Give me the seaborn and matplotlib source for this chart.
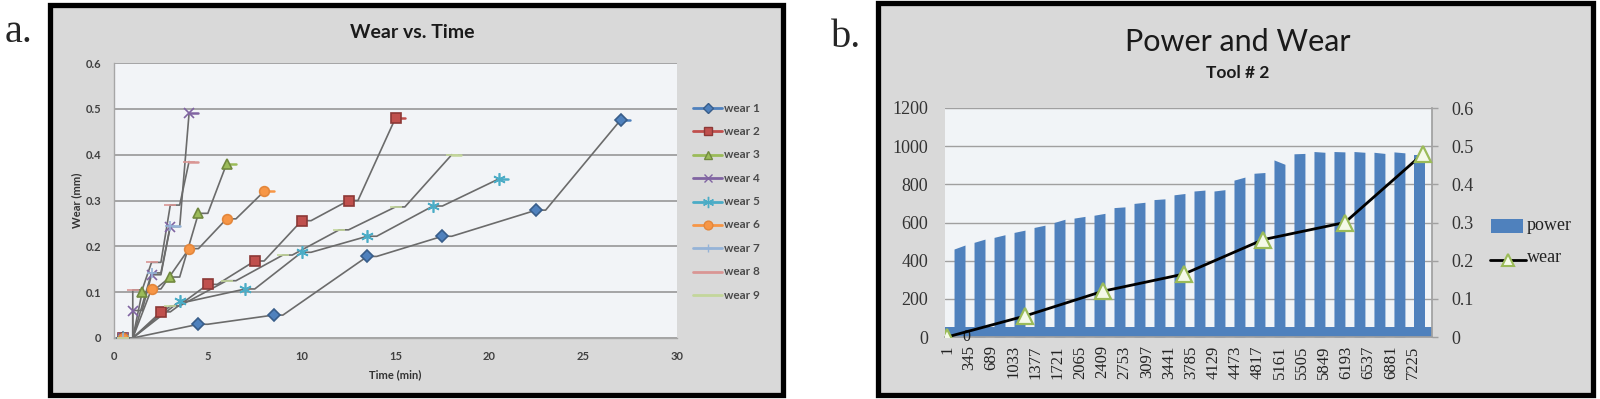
import matplotlib
matplotlib.use("Agg")
import matplotlib.pyplot as plt
import seaborn as sns
import pandas as pd
from matplotlib.patches import Rectangle
from matplotlib.lines import Line2D

# ---------------- Panel a data: Wear vs. Time ----------------
series_names = ["wear 1", "wear 2", "wear 3", "wear 4", "wear 5",
                "wear 6", "wear 7", "wear 8", "wear 9"]
wear1_time = [0.5, 4.5, 8.5, 13.5, 17.5, 22.5, 27]
wear1_mm = [0, 0.03, 0.05, 0.178, 0.222, 0.279, 0.476]
wear2_time = [0.5, 2.5, 5, 7.5, 10, 12.5, 15]
wear2_mm = [0, 0.057, 0.117, 0.168, 0.256, 0.30, 0.48]
wear3_time = [0.5, 1.5, 3, 4.5, 6]
wear3_mm = [0, 0.10, 0.133, 0.272, 0.38]
wear4_time = [0.5, 1, 2, 3, 4]
wear4_mm = [0, 0.06, 0.138, 0.243, 0.49]
wear5_time = [0.5, 3.5, 7, 10, 13.5, 17, 20.5]
wear5_mm = [0, 0.08, 0.107, 0.187, 0.222, 0.288, 0.347]
wear6_time = [0.5, 2, 4, 6, 8]
wear6_mm = [0, 0.107, 0.195, 0.26, 0.32]
wear7_time = [0.5, 2, 3]
wear7_mm = [0, 0.142, 0.245]
wear8_time = [0.5, 1, 2, 3, 4]
wear8_mm = [0, 0.105, 0.165, 0.29, 0.385]
wear9_time = [0.5, 3, 6, 9, 12, 15, 18]
wear9_mm = [0, 0.07, 0.125, 0.181, 0.236, 0.286, 0.40]

times_a = [wear1_time, wear2_time, wear3_time, wear4_time, wear5_time,
           wear6_time, wear7_time, wear8_time, wear9_time]
wears_a = [wear1_mm, wear2_mm, wear3_mm, wear4_mm, wear5_mm,
           wear6_mm, wear7_mm, wear8_mm, wear9_mm]

# ---------------- Panel b data: Power and Wear, Tool # 2 ----------------
sample_ticks = [1, 345, 689, 1033, 1377, 1721, 2065, 2409, 2753, 3097, 3441,
                3785, 4129, 4473, 4817, 5161, 5505, 5849, 6193, 6537, 6881, 7225]
cut_start = [110, 420, 730, 1040, 1350, 1660, 1970, 2280, 2590, 2900, 3210, 3520,
             3830, 4140, 4450, 4760, 5070, 5380, 5690, 6000, 6310, 6620, 6930, 7240]
cut_end = [280, 590, 900, 1210, 1520, 1830, 2140, 2450, 2760, 3070, 3380, 3690,
           4000, 4310, 4620, 4930, 5240, 5550, 5860, 6170, 6480, 6790, 7100, 7410]
power_start = [461, 496, 522, 548, 574, 600, 623, 638, 678, 700, 720, 745,
               765, 765, 822, 858, 928, 960, 972, 972, 972, 968, 970, 955]
power_end = [482, 513, 536, 560, 586, 617, 632, 648, 682, 706, 724, 752,
             770, 772, 838, 862, 905, 962, 968, 970, 968, 962, 965, 955]
idle_power = 55
wear_sample = [1, 1210, 2419, 3675, 4899, 6170, 7379]
wear_b = [0, 0.055, 0.12, 0.165, 0.255, 0.30, 0.48]

# ---------------- styling ----------------
sns.set_theme(style="white")
plt.rcParams['font.family'] = ['Lato', 'DejaVu Sans']

W, H = 1600, 399
def fx(px): return px / W
def fy(py): return 1 - py / H

fig = plt.figure(figsize=(16, 3.99), dpi=100)
fig.patch.set_facecolor('white')

# panel frames
fig.add_artist(Rectangle((fx(50), fy(395)), fx(783) - fx(50), fy(5) - fy(395),
                         transform=fig.transFigure, facecolor='#d9d9d9',
                         edgecolor='black', lw=3.8, zorder=-5))
fig.add_artist(Rectangle((fx(878), fy(395)), fx(1593) - fx(878), fy(3) - fy(395),
                         transform=fig.transFigure, facecolor='#d9d9d9',
                         edgecolor='black', lw=3.8, zorder=-5))

serif = ['Liberation Serif', 'DejaVu Serif']
fig.text(fx(5), fy(42), "a.", family=serif, fontsize=29, va='baseline', ha='left')
fig.text(fx(831), fy(47), "b.", family=serif, fontsize=29, va='baseline', ha='left')

# ---------------- Panel a ----------------
styles = [
    dict(c='#4F81BD', m='D', ms=6, mec='#385D8A'),
    dict(c='#C0504D', m='s', ms=7, mec='#8C3836'),
    dict(c='#9BBB59', m='^', ms=7, mec='#71893F'),
    dict(c='#8064A2', m='x', ms=7, mec='#8064A2'),
    dict(c='#4BACC6', m=(6, 2, 0), ms=9, mec='#4BACC6'),
    dict(c='#F79646', m='o', ms=7, mec='#E3873C'),
    dict(c='#95B3D7', m='+', ms=7, mec='#95B3D7'),
    dict(c='#D99694', m='_', ms=8, mec='#D99694'),
    dict(c='#C3D69B', m='_', ms=8, mec='#C3D69B'),
]
dwell = 0.5
ax_a = fig.add_axes([fx(114), fy(338), fx(677) - fx(114), fy(63) - fy(338)])
ax_a.set_facecolor('#f2f4f7')
ax_a.set_xlim(0, 30)
ax_a.set_ylim(0, 0.6)
ax_a.set_xticks(range(0, 31, 5))
ax_a.set_yticks([0, 0.1, 0.2, 0.3, 0.4, 0.5, 0.6])
ax_a.set_yticklabels(["0", "0.1", "0.2", "0.3", "0.4", "0.5", "0.6"])
ax_a.yaxis.grid(True, color='#8f8f8f', lw=1.1)
ax_a.set_axisbelow(True)
for s in ['top', 'right']:
    ax_a.spines[s].set_visible(False)
for s in ['left', 'bottom']:
    ax_a.spines[s].set_color('#a6a6a6')
    ax_a.spines[s].set_linewidth(1.0)
ax_a.tick_params(length=0, pad=9, labelsize=8, labelcolor='#404040')
for lab in ax_a.get_xticklabels() + ax_a.get_yticklabels():
    lab.set_fontweight('bold')

for t, w, st in zip(times_a, wears_a, styles):
    path_t, path_w = [], []
    for ti, wi in zip(t, w):
        path_t += [ti, ti + dwell]
        path_w += [wi, wi]
    df = pd.DataFrame({"t": path_t[:-1], "w": path_w[:-1]})
    sns.lineplot(data=df, x="t", y="w", ax=ax_a, color='#6b6b6b', lw=1.2,
                 sort=False, estimator=None, zorder=2)
    ax_a.plot([t[-1], t[-1] + dwell], [w[-1], w[-1]], color=st['c'], lw=1.8, zorder=3)
    ax_a.plot(t, w, ls='none', marker=st['m'], ms=st['ms'], color=st['c'],
              mec=st['mec'], mew=1.2, zorder=4)
ax_a.set_xlabel("")
ax_a.set_ylabel("")

fig.text(fx(412), fy(33), "Wear vs. Time", fontsize=14, fontweight='bold',
         ha='center', va='center', color='#1a1a1a')
fig.text(fx(77), fy(200), "Wear (mm)", fontsize=8, fontweight='bold', rotation=90,
         ha='center', va='center', color='#333333')
fig.text(fx(395), fy(375), "Time (min)", fontsize=8, fontweight='bold',
         ha='center', va='center', color='#333333')

# legend a
for i, (name, st) in enumerate(zip(series_names, styles)):
    y = 108 + 23.4 * i
    fig.add_artist(Line2D([fx(693), fx(722)], [fy(y), fy(y)], color=st['c'], lw=2,
                          transform=fig.transFigure))
    if st['m'] != '_':
        fig.add_artist(Line2D([fx(707.5)], [fy(y)], marker=st['m'], ms=st['ms'] * 0.9,
                              color=st['c'], mec=st['mec'], ls='none',
                              transform=fig.transFigure))
    fig.text(fx(724), fy(y), name, fontsize=8.5, fontweight='bold', color='#4a4a4a',
             ha='left', va='center')

# ---------------- Panel b ----------------
blue = '#4F81BD'
ax_b = fig.add_axes([fx(945), fy(337), fx(1432) - fx(945), fy(108) - fy(337)])
ax_b.set_facecolor('#f1f4f7')
ax_b.set_xlim(-30, 7520)
ax_b.set_ylim(0, 1200)
ax_b.yaxis.grid(True, color='#a0a0a0', lw=1.0)
ax_b.set_axisbelow(True)
ax_b.axhspan(0, idle_power, color=blue, lw=0, zorder=1)
for s, e, p0, p1 in zip(cut_start, cut_end, power_start, power_end):
    ax_b.fill_between([s, e], [p0, p1], 0, color=blue, lw=0, zorder=1)
ax_b.set_yticks(range(0, 1201, 200))
ax_b.set_xticks(sample_ticks)
ax_b.set_xticklabels([str(v) for v in sample_ticks], rotation=90)
ax_b.tick_params(axis='y', length=0, pad=12, labelsize=13, labelcolor='#333333')
ax_b.tick_params(axis='x', length=0, pad=6, labelsize=12, labelcolor='#222222')
for lab in ax_b.get_xticklabels() + ax_b.get_yticklabels():
    lab.set_fontfamily(serif)
for s in ['top', 'left', 'right']:
    ax_b.spines[s].set_visible(False)
ax_b.spines['bottom'].set_color('#a0a0a0')

ax_b2 = ax_b.twinx()
ax_b2.set_ylim(0, 0.6)
ax_b2.set_yticks([0, 0.1, 0.2, 0.3, 0.4, 0.5, 0.6])
ax_b2.set_yticklabels(["0", "0.1", "0.2", "0.3", "0.4", "0.5", "0.6"])
sns.lineplot(x=wear_sample, y=wear_b, ax=ax_b2, color='black', lw=2.0,
             sort=False, estimator=None, marker='^', markersize=11,
             markerfacecolor='#f4f9e8', markeredgecolor='#9BBB59',
             markeredgewidth=1.6, zorder=5)
ax_b2.annotate("0", (wear_sample[0], wear_b[0]), xytext=(14, 0),
               textcoords='offset points', ha='center', va='center',
               fontsize=11.5, family=serif, color='#222222', annotation_clip=False)
ax_b2.tick_params(axis='y', length=4, width=1, color='#a0a0a0', pad=10,
                  labelsize=13, labelcolor='#333333')
for lab in ax_b2.get_yticklabels():
    lab.set_fontfamily(serif)
for s in ['top', 'left', 'bottom']:
    ax_b2.spines[s].set_visible(False)
ax_b2.spines['right'].set_color('#a0a0a0')
ax_b2.set_ylabel("")
ax_b2.grid(False)

fig.text(fx(1238), fy(42), "Power and Wear", fontsize=22, ha='center', va='center',
         color='#1a1a1a')
fig.text(fx(1238), fy(73), "Tool # 2", fontsize=12.5, fontweight='bold',
         ha='center', va='center', color='#1a1a1a')

# legend b
fig.add_artist(Rectangle((fx(1491), fy(233)), fx(1523) - fx(1491), fy(219) - fy(233),
                         transform=fig.transFigure, facecolor=blue, edgecolor='none'))
fig.text(fx(1527), fy(225), "power", family=serif, fontsize=13, ha='left',
         va='center', color='#222222')
fig.add_artist(Line2D([fx(1490), fx(1526)], [fy(260), fy(260)], color='black', lw=2,
                      transform=fig.transFigure))
fig.add_artist(Line2D([fx(1508)], [fy(260)], marker='^', ms=9, mfc='#f4f9e8',
                      mec='#9BBB59', mew=1.5, ls='none', transform=fig.transFigure))
fig.text(fx(1527), fy(258), "wear", family=serif, fontsize=13, ha='left',
         va='center', color='#222222')

fig.savefig("out.png", dpi=100)
